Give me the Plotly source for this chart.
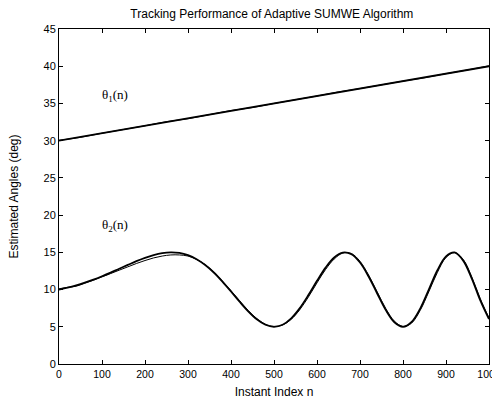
import plotly.graph_objects as go

n_theta1 = [0, 100, 200, 300, 400, 500, 600, 700, 800, 900, 1000]
theta1_true = [30.0, 31.0, 32.0, 33.0, 34.0, 35.0, 36.0, 37.0, 38.0, 39.0, 40.0]

n_theta1_est = [0, 50, 100, 150, 200, 250, 300, 350, 400, 450, 500, 550, 600, 650, 700, 750, 800, 850, 900, 950, 1000]
theta1_est = [30.05, 30.45, 31.0, 31.5, 32.0, 32.55, 32.95, 33.5, 34.05, 34.45, 35.0, 35.5, 36.0, 36.55, 37.0, 37.5, 38.0, 38.45, 39.0, 39.5, 40.05]

n_theta2 = list(range(0, 1001, 20))
theta2_true = [10.00, 10.25, 10.56, 10.92, 11.33, 11.79, 12.28, 12.80, 13.31, 13.81,
               14.26, 14.63, 14.89, 15.00, 14.92, 14.62, 14.08, 13.30, 12.29, 11.07,
               9.74, 8.37, 7.08, 6.00, 5.27, 5.00, 5.28, 6.14, 7.51, 9.26,
               11.17, 12.95, 14.31, 14.97, 14.75, 13.63, 11.75, 9.47, 7.24, 5.61,
               5.00, 5.64, 7.44, 9.99, 12.59, 14.46, 14.98, 13.89, 11.48, 8.51, 6.03]
theta2_est = [10.10, 10.30, 10.45, 10.85, 11.25, 11.70, 12.15, 12.60, 13.05, 13.50,
              13.90, 14.25, 14.50, 14.65, 14.65, 14.50, 14.05, 13.35, 12.35, 11.15,
              9.85, 8.50, 7.20, 6.10, 5.35, 5.05, 5.25, 6.00, 7.30, 9.00,
              10.90, 12.70, 14.10, 14.90, 14.85, 13.80, 11.95, 9.70, 7.45, 5.75,
              5.05, 5.50, 7.20, 9.70, 12.30, 14.30, 14.95, 14.05, 11.70, 8.75, 6.20]

x_ticks = [0, 100, 200, 300, 400, 500, 600, 700, 800, 900, 1000]
y_ticks = [0, 5, 10, 15, 20, 25, 30, 35, 40, 45]

fig = go.Figure()
fig.add_trace(go.Scatter(x=n_theta1, y=theta1_true, mode="lines",
                         line=dict(color="black", width=1.8), showlegend=False))
fig.add_trace(go.Scatter(x=n_theta1_est, y=theta1_est, mode="lines",
                         line=dict(color="black", width=1.0, shape="spline"), showlegend=False))
fig.add_trace(go.Scatter(x=n_theta2, y=theta2_true, mode="lines",
                         line=dict(color="black", width=1.8, shape="spline"), showlegend=False))
fig.add_trace(go.Scatter(x=n_theta2, y=theta2_est, mode="lines",
                         line=dict(color="black", width=1.0, shape="spline"), showlegend=False))

fig.add_annotation(x=130, y=36.1, text="θ<sub>1</sub>(n)", showarrow=False,
                   font=dict(family="Liberation Serif", size=13, color="black"))
fig.add_annotation(x=130, y=18.6, text="θ<sub>2</sub>(n)", showarrow=False,
                   font=dict(family="Liberation Serif", size=13, color="black"))

axis_common = dict(showline=True, linecolor="black", linewidth=1, mirror="ticks",
                   ticks="inside", ticklen=4, tickcolor="black", showgrid=False,
                   zeroline=False, automargin=False, ticklabeloverflow="allow")

fig.update_layout(
    width=492, height=402,
    margin=dict(l=59, r=3, t=29, b=38),
    paper_bgcolor="white", plot_bgcolor="white",
    title=dict(text="Tracking Performance of Adaptive SUMWE Algorithm",
               xref="paper", x=0.495, xanchor="center", y=0.965, yanchor="middle",
               font=dict(family="Liberation Sans", size=12, color="black")),
    xaxis=dict(range=[0, 1000], tickvals=x_ticks,
               tickfont=dict(family="Liberation Sans", size=10.5, color="black"),
               title=dict(text="Instant Index n", standoff=9,
                          font=dict(family="Liberation Sans", size=12, color="black")),
               **axis_common),
    yaxis=dict(range=[0, 45], tickvals=y_ticks,
               tickfont=dict(family="Liberation Sans", size=11, color="black"),
               title=dict(text="Estimated Angles (deg)", standoff=22,
                          font=dict(family="Liberation Sans", size=12, color="black")),
               **axis_common),
)

fig.write_html("out.html", config={"displayModeBar": False},
               post_script="document.body.style.margin='0';")
